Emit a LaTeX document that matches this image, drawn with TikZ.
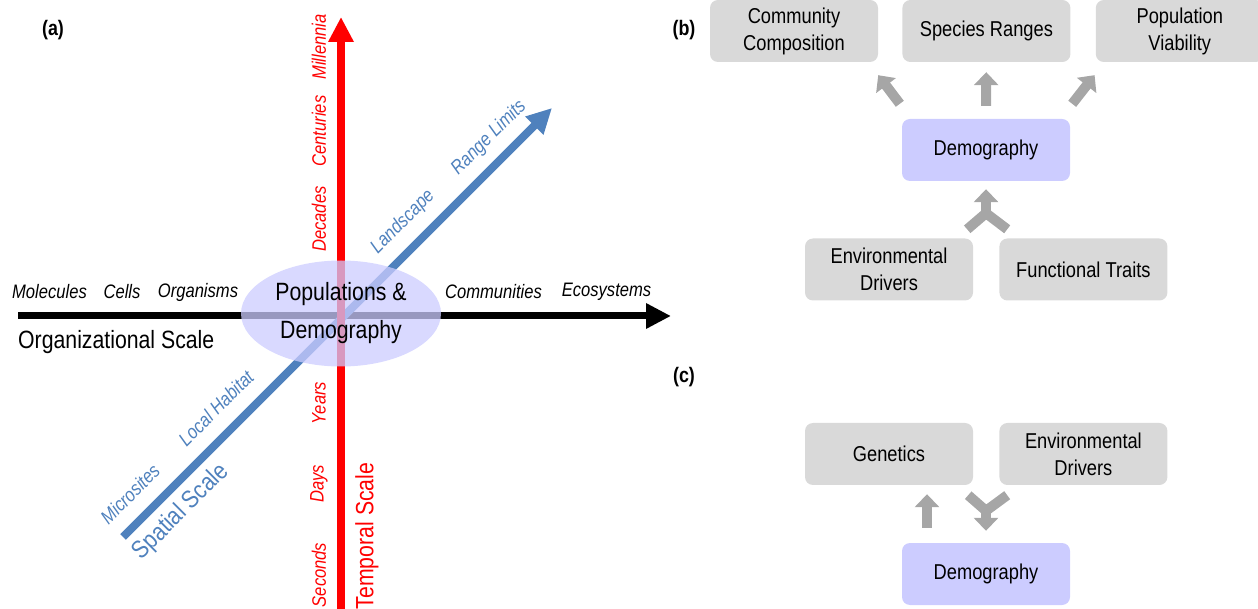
\documentclass[tikz,border=0pt]{standalone}
\usepackage{fontspec}
\setmainfont{Liberation Sans}[FakeStretch=0.85]
\usetikzlibrary{arrows.meta,calc,shapes.geometric,positioning}
\definecolor{boxgray}{HTML}{D9D9D9}
\definecolor{arrgray}{HTML}{A6A6A6}
\definecolor{demo}{HTML}{CCCCFF}
\definecolor{spblue}{HTML}{4F81BD}

\begin{document}
\begin{tikzpicture}[x=1pt,y=1pt,
  box/.style={fill=boxgray, rounded corners=8pt, minimum width=168pt, minimum height=62pt,
    align=center, inner sep=0pt, font=\fontsize{21.5}{27}\selectfont},
  demobox/.style={box, fill=demo},
  blockarr/.style={draw=arrgray, line width=10pt, -{Triangle[width=24pt,length=13pt]}},
  blockline/.style={draw=arrgray, line width=10pt, miter limit=10},
  axis/.style={line width=8pt, -{Triangle[width=24pt,length=25pt]}},
  scalelbl/.style={font=\fontsize{19.5}{22}\selectfont\itshape, inner sep=0pt},
  axlbl/.style={font=\fontsize{25}{28}\selectfont, inner sep=0pt},
  panel/.style={font=\bfseries\fontsize{21}{24}\selectfont, inner sep=0pt}]
\useasboundingbox (0,0) rectangle (1258,608);

% (a) the three scales
\node[panel] (lblA) at (53,578) {(a)};
\coordinate (oleft) at (18,292);
\coordinate (oright) at (671,292);
\coordinate (tbot) at (341,-5);
\coordinate (ttop) at (341,591);
\coordinate (sbot) at (123,71);
\coordinate (stop) at (552,500);
\draw[axis, line width=7pt] (oleft) -- (oright);
\draw[axis, spblue] (sbot) -- (stop);
\draw[axis, red] (tbot) -- (ttop);

\node[ellipse, fill=demo, fill opacity=.75, text opacity=1, minimum width=200pt, minimum height=106pt,
  inner sep=0pt, align=center, font=\fontsize{25}{38}\selectfont] (popn) at (341,294.5) {Populations \&\\Demography};

\node[scalelbl] (molec) at (49.5,316) {Molecules};
\node[scalelbl] (cells) at (122,316) {Cells};
\node[scalelbl] (organ) at (198,316) {Organisms};
\node[scalelbl] (commu) at (493.5,316) {Communities};
\node[scalelbl] (ecosy) at (606.5,316) {Ecosystems};
\node[axlbl, anchor=west] (orgsc) at (18,266) {Organizational Scale};

\begin{scope}[every node/.append style={rotate=90, text=red}]
\node[scalelbl] (mill) at (319,561) {Millennia};
\node[scalelbl] (cent) at (319,477) {Centuries};
\node[scalelbl] (deca) at (319,389) {Decades};
\node[scalelbl] (year) at (319,205) {Years};
\node[scalelbl] (days) at (319,124) {Days};
\node[scalelbl] (secs) at (319,33) {Seconds};
\node[axlbl] (tempsc) at (367,72) {Temporal Scale};
\end{scope}

\begin{scope}[every node/.append style={rotate=45, text=spblue}]
\node[scalelbl] (micro) at (130,114) {Microsites};
\node[scalelbl] (habit) at (216,200) {Local Habitat};
\node[scalelbl] (lands) at (403,386) {Landscape};
\node[scalelbl] (range) at (489,470) {Range Limits};
\node[axlbl] (spatsc) at (181,96) {Spatial Scale};
\end{scope}

% (b)
\node[panel] (lblB) at (684,578) {(b)};
\node[box] (comm) at (794,577) {Community\\Composition};
\node[box, right=24pt of comm] (species) {Species Ranges};
\node[box, right=25pt of species] (popv) {Population\\Viability};
\node[demobox] (demoB) at (986,458) {Demography};
\node[box] (envB) at (889,338.5) {Environmental\\Drivers};
\node[box, right=26pt of envB] (funcB) {Functional Traits};

\draw[blockarr] ($(demoB.north west)+(-2,15)$) -- ($(comm.south east)+(0,-13)$);
\draw[blockarr, shorten <=13pt, shorten >=10pt] (demoB) -- (species);
\draw[blockarr] ($(demoB.north east)+(2,15)$) -- ($(popv.south west)+(-1,-13)$);
\coordinate (mergeB) at ($(demoB.south)+(0,-32)$);
\draw[blockline] ($(envB.north east)+(-6,9)$) -- (mergeB) -- ($(funcB.north west)+(8,9)$);
\draw[blockarr] (mergeB) -- ($(demoB.south)+(0,-8)$);

% (c)
\node[panel] (lblC) at (684,231) {(c)};
\node[box] (genC) at (889,154) {Genetics};
\node[box, right=26pt of genC] (envC) {Environmental\\Drivers};
\node[demobox] (demoC) at (986,34) {Demography};

\draw[blockarr] ($(demoC.north)+(-59,15)$) -- ($(genC.south)+(38,-9)$);
\coordinate (splitC) at ($(demoC.north)+(0,32)$);
\draw[blockline] ($(genC.south east)+(-5,-10)$) -- (splitC) -- ($(envC.south west)+(8,-10)$);
\draw[blockarr] (splitC) -- ($(demoC.north)+(0,12)$);
\end{tikzpicture}
\end{document}
